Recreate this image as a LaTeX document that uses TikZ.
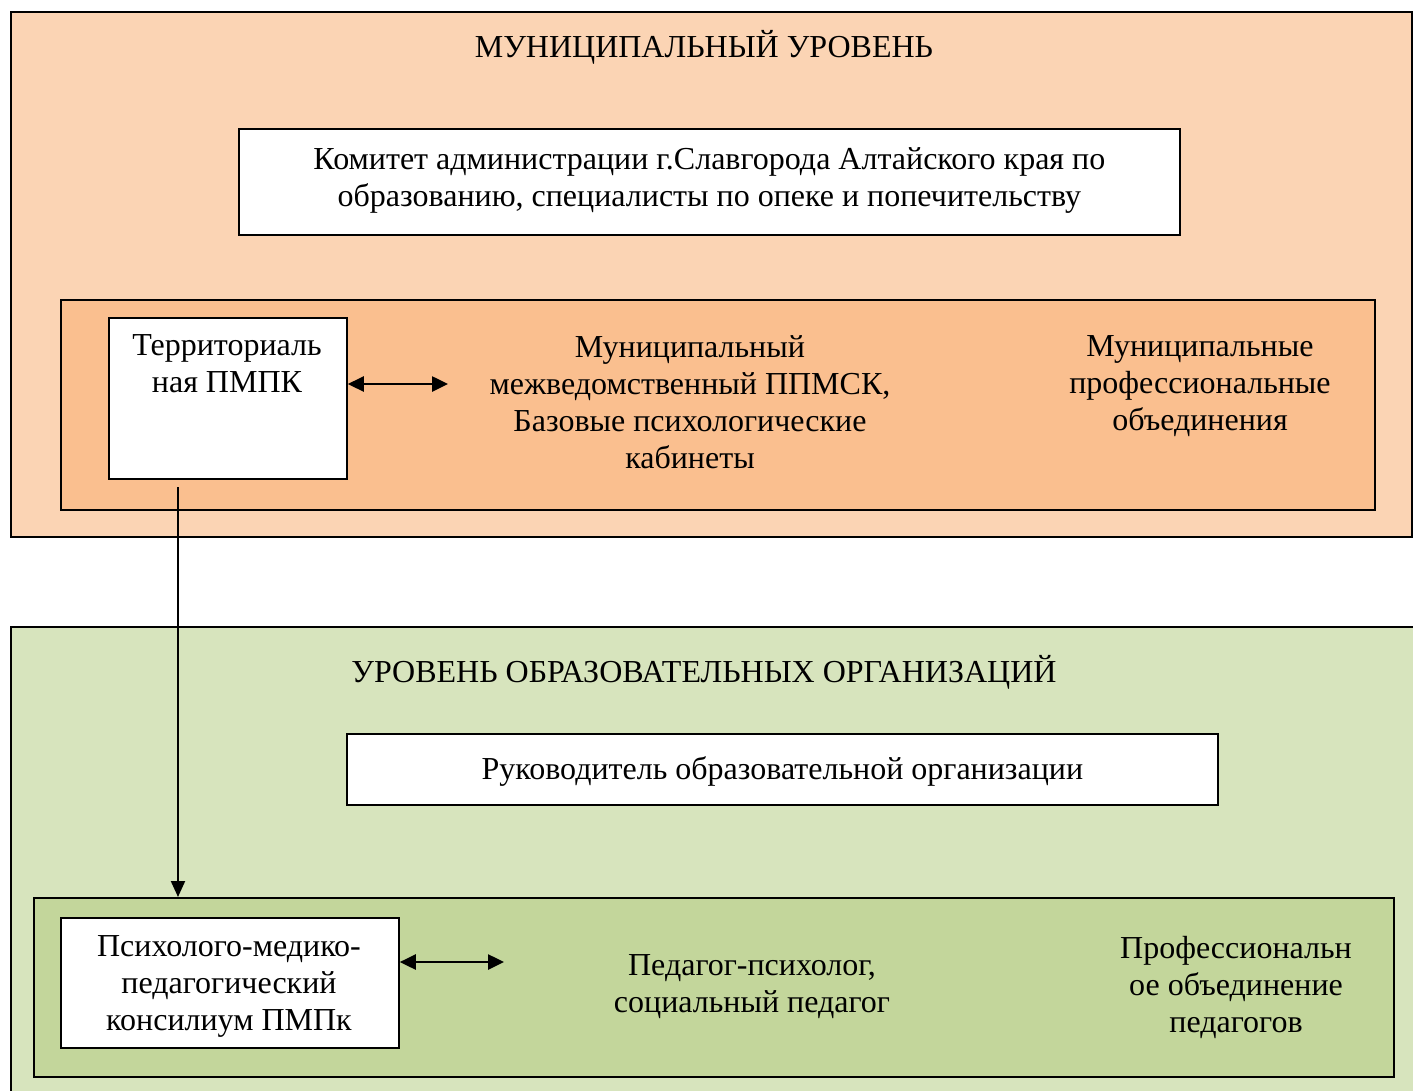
\documentclass[tikz,border=0pt]{standalone}
\usepackage{fontspec}
\setmainfont{Liberation Serif}
\usetikzlibrary{arrows.meta}
\definecolor{orOut}{HTML}{FBD4B4}
\definecolor{orIn}{HTML}{FABF8F}
\definecolor{grOut}{HTML}{D7E4BD}
\definecolor{grIn}{HTML}{C3D69B}
\begin{document}
\begin{tikzpicture}[x=1pt,y=-1pt,
  lvl/.style={draw=black, line width=2.2pt, anchor=north west, inner sep=0pt},
  wbox/.style={draw=black, line width=1.8pt, fill=white, anchor=north west, inner sep=0pt},
  txt/.style={font=\fontsize{32}{37}\selectfont, align=center, inner sep=0pt},
  conn/.style={line width=2.6pt, {Triangle[length=16pt,width=15pt]}-{Triangle[length=16pt,width=15pt]}},
  down/.style={line width=2pt, -{Triangle[length=16pt,width=14pt]}}
]
\useasboundingbox (0,0) rectangle (1413,1090);
\fill[white] (0,0) rectangle (1413,1090);
% municipal level
\node[lvl, fill=orOut, minimum width=1401, minimum height=525] (mun) at (10,11) {};
\node[txt] (munT) at (704,47) {МУНИЦИПАЛЬНЫЙ УРОВЕНЬ};
\node[wbox, minimum width=941, minimum height=106] (kom) at (238,128) {};
\node[txt] (komT) at ([yshift=1]kom.center) {Комитет администрации г.Славгорода Алтайского края по\\образованию, специалисты по опеке и попечительству};
\node[lvl, fill=orIn, minimum width=1314, minimum height=210] (munIn) at (60,299) {};
\node[wbox, minimum width=238, minimum height=161] (terr) at (108,317) {};
\node[txt] (terrT) at (227,364) {Территориаль\\ная ПМПК};
\node[txt] (ppmsk) at (690,402) {Муниципальный\\межведомственный ППМСК,\\Базовые психологические\\кабинеты};
\node[txt] (mpo) at (1200,386) {Муниципальные\\профессиональные\\объединения};
\coordinate (a1) at (448,384);
\draw[conn] (terr.east |- a1) -- (a1);
% school level
\node[lvl, fill=grOut, minimum width=1420, minimum height=480] (edu) at (10,626) {};
\node[txt] (eduT) at (704,672) {УРОВЕНЬ ОБРАЗОВАТЕЛЬНЫХ ОРГАНИЗАЦИЙ};
\node[wbox, minimum width=871, minimum height=71] (ruk) at (346,733) {};
\node[txt] (rukT) at ([yshift=-2]ruk.center) {Руководитель образовательной организации};
\node[lvl, fill=grIn, minimum width=1360, minimum height=179] (eduIn) at (33,897) {};
\node[wbox, minimum width=338, minimum height=130] (pmpk) at (60,917) {};
\node[txt] (pmpkT) at (229,986) {Психолого-медико-\\педагогический\\консилиум ПМПк};
\node[txt] (ped) at (752,987) {Педагог-психолог,\\социальный педагог};
\node[txt] (pob) at (1236,987) {Профессиональн\\ое объединение\\педагогов};
\coordinate (a2) at (504,962);
\draw[conn] (pmpk.east |- a2) -- (a2);
% vertical connector
\coordinate (vs) at (178,487);
\draw[down] (vs) -- (vs |- eduIn.north);
\end{tikzpicture}
\end{document}
